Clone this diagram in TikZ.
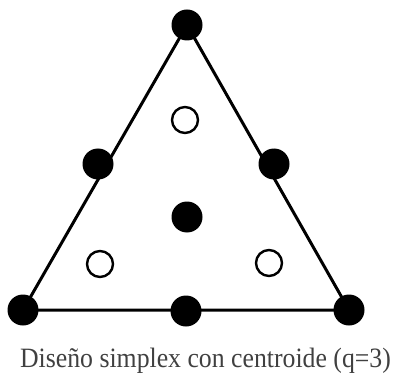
\documentclass[tikz,border=0pt]{standalone}
\usepackage{fontspec}
\setmainfont{Liberation Serif}
\begin{document}
\begin{tikzpicture}[x=1pt,y=-1pt,
  full/.style={circle,fill=black,inner sep=0pt,minimum size=31pt},
  open/.style={circle,draw=black,line width=2.4pt,fill=white,inner sep=0pt,minimum size=26pt},
  edge/.style={line width=3pt}]
\useasboundingbox (0,0) rectangle (393,374);
\coordinate (T) at (187,25);
\coordinate (L) at (23,310);
\coordinate (R) at (349,310);
\draw[edge] (T) -- (L) -- (R) -- cycle;
\node[full] (t) at (T) {};
\node[full] (l) at (L) {};
\node[full] (r) at (R) {};
\node[full] (ml) at (98,164) {};
\node[full] (mr) at (274,164) {};
\node[full] (mb) at (186,311) {};
\node[full] (c) at (187,217) {};
\node[open] (ot) at (185,120) {};
\node[open] (ol) at (100,264) {};
\node[open] (or) at (269,263) {};
\node[anchor=base,inner sep=0pt,text=black!75,xscale=0.92] (cap) at (205.5,367) {\fontsize{28}{32}\selectfont Diseño simplex con centroide (q=3)};
\end{tikzpicture}
\end{document}
